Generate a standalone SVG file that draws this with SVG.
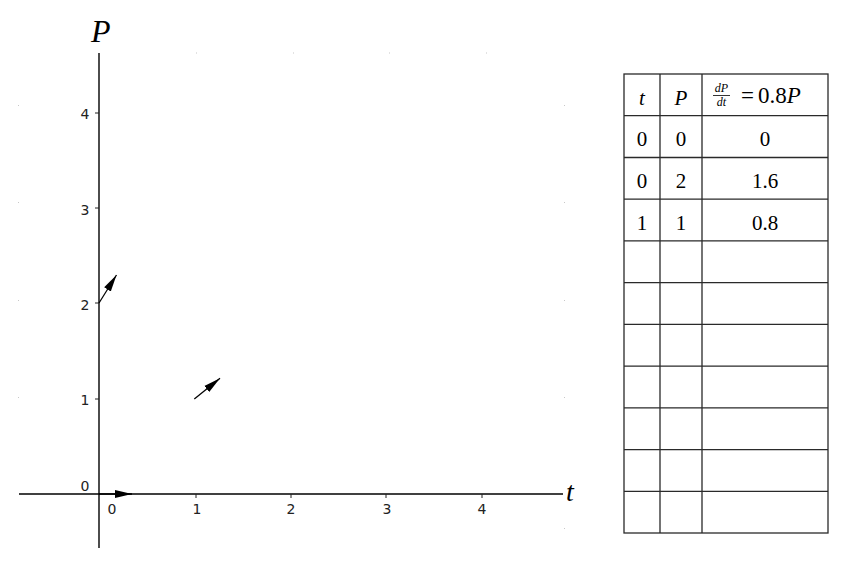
<svg xmlns="http://www.w3.org/2000/svg" width="862" height="564" viewBox="0 0 862 564">
<style>
.ax{stroke:#000;stroke-width:1.4;fill:none}
.tk{stroke:#222;stroke-width:1;fill:none}
.lb{font-family:"DejaVu Sans",sans-serif;font-size:14px;fill:#222;text-anchor:middle}
.vec{stroke:#000;stroke-width:1.3;fill:none;marker-end:url(#ah)}
.dot{fill:#c8c8c8}
.math{font-family:"Liberation Serif","DejaVu Serif",serif;fill:#000}
.it{font-style:italic}
.cell{font-family:"Liberation Serif","DejaVu Serif",serif;font-size:21px;fill:#000;text-anchor:middle}
.grid{stroke:#2a2a2a;stroke-width:1.3;fill:none}
</style>
<defs>
<marker id="ah" markerUnits="userSpaceOnUse" markerWidth="18" markerHeight="9" refX="17" refY="4.5" orient="auto">
<path d="M0,0.6 L17,4.5 L0,8.4 z" fill="#000"/>
</marker>
</defs>
<rect width="862" height="564" fill="#fff"/>
<g id="grid-dots">
<rect class="dot" x="196" y="52.5" width="1" height="1"/>
<rect class="dot" x="293" y="52.5" width="1" height="1"/>
<rect class="dot" x="389" y="52.5" width="1" height="1"/>
<rect class="dot" x="486" y="52.5" width="1" height="1"/>
<rect class="dot" x="18" y="105" width="1" height="1"/>
<rect class="dot" x="18" y="202" width="1" height="1"/>
<rect class="dot" x="18" y="300" width="1" height="1"/>
<rect class="dot" x="18" y="397" width="1" height="1"/>
<rect class="dot" x="564" y="105" width="1" height="1"/>
<rect class="dot" x="564" y="202" width="1" height="1"/>
<rect class="dot" x="564" y="300" width="1" height="1"/>
<rect class="dot" x="564" y="397" width="1" height="1"/>
<rect class="dot" x="564" y="528" width="1" height="1"/>
</g>
<g id="axes">
<line class="ax" x1="19" y1="494" x2="563" y2="494"/>
<line class="ax" x1="99" y1="53" x2="99" y2="548"/>
<path class="tk" d="M196,494V498 M291,494V498 M386,494V498 M482,494V498 M95,113H99 M95,208H99 M95,303H99 M95,399H99"/>
<text class="math it" x="91" y="42" font-size="32">P</text>
<text class="math it" x="566" y="501" font-size="28">t</text>
</g>
<g id="tick-labels">
<text class="lb" x="112" y="514">0</text>
<text class="lb" x="197" y="514">1</text>
<text class="lb" x="291" y="514">2</text>
<text class="lb" x="387" y="514">3</text>
<text class="lb" x="482" y="514">4</text>
<text class="lb" x="85" y="119">4</text>
<text class="lb" x="85" y="215">3</text>
<text class="lb" x="85" y="310">2</text>
<text class="lb" x="85" y="405">1</text>
<text class="lb" x="85" y="491">0</text>
</g>
<g id="connectors">
<line class="vec" x1="99" y1="494" x2="132" y2="494"/>
<line class="vec" x1="99" y1="303" x2="116.5" y2="275"/>
<line class="vec" x1="194.3" y1="399" x2="220" y2="378.3"/>
</g>
<g id="table">
<rect class="grid" x="624" y="74" width="204" height="459"/>
<path class="grid" d="M660,74V533 M702,74V533 M624,115.7H828 M624,157.5H828 M624,199.2H828 M624,240.9H828 M624,282.6H828 M624,324.4H828 M624,366.1H828 M624,407.8H828 M624,449.6H828 M624,491.3H828"/>
<text class="cell it" x="642" y="105" font-size="23">t</text>
<text class="cell it" x="681" y="105" font-size="23">P</text>
<g id="header-formula">
<text class="math it" x="721.5" y="91.5" font-size="12" text-anchor="middle">dP</text>
<line x1="713" y1="95.5" x2="730" y2="95.5" stroke="#000" stroke-width="0.8"/>
<text class="math it" x="721.5" y="106" font-size="12" text-anchor="middle">dt</text>
<text class="math" x="741" y="103" font-size="23">=</text>
<text class="math" x="758" y="103" font-size="23">0.8<tspan class="it">P</tspan></text>
</g>
<text class="cell" x="642" y="146">0</text>
<text class="cell" x="681" y="146">0</text>
<text class="cell" x="765" y="146">0</text>
<text class="cell" x="642" y="188">0</text>
<text class="cell" x="681" y="188">2</text>
<text class="cell" x="765" y="188">1.6</text>
<text class="cell" x="642" y="230">1</text>
<text class="cell" x="681" y="230">1</text>
<text class="cell" x="765" y="230">0.8</text>
</g>
</svg>
